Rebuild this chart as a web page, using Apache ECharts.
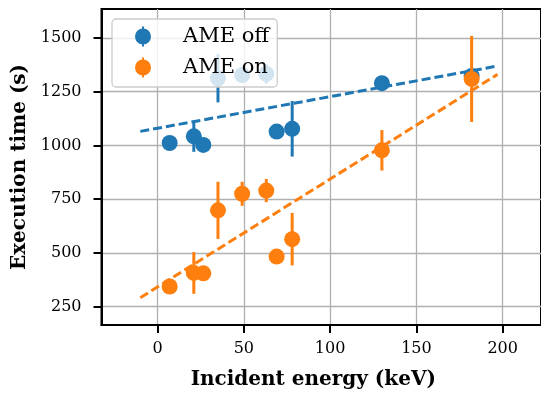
<!DOCTYPE html>
<html>
<head>
<meta charset="utf-8">
<script src="https://cdn.jsdelivr.net/npm/echarts@6/dist/echarts.min.js"></script>
<style>
  html, body { margin: 0; padding: 0; background: #fff; }
  #main { width: 541px; height: 395px; }
</style>
</head>
<body>
<div id="main"></div>
<script>
// incident energies (keV), shared by both runs
var energies = [7, 21, 26.5, 35, 49, 63, 69, 78, 130, 182];

// AME off
var offTime = [1011, 1042, 1002, 1312, 1327, 1332, 1064, 1077, 1289, 1323];
var offErr  = [8, 72, 8, 112, 20, 45, 8, 129, 10, 15];

// AME on
var onTime = [344, 407, 405, 698, 775, 790, 483, 564, 977, 1309];
var onErr  = [8, 97, 8, 133, 56, 54, 8, 122, 94, 200];

// linear fits (end points)
var fitX = [-10, 197];
var offFitY = [1065, 1369];
var onFitY = [292, 1330];

var xTicks = [0, 50, 100, 150, 200];
var yTicks = [250, 500, 750, 1000, 1250, 1500];

var BLUE = '#1f77b4', ORANGE = '#ff7f0e';
var FONT = 'DejaVu Serif';

function pts(xs, ys, es) {
  return xs.map(function (x, i) { return es ? [x, ys[i], es[i]] : [x, ys[i]]; });
}

function errRender(params, api) {
  var x = api.value(0), y = api.value(1), e = api.value(2);
  var a = api.coord([x, y - e]), b = api.coord([x, y + e]);
  return {
    type: 'line',
    shape: { x1: a[0], y1: a[1], x2: b[0], y2: b[1] },
    style: { stroke: api.visual('color'), lineWidth: 3 }
  };
}

// circle marker with a little error bar through it
var legendIcon = 'path://M9,0h2v20h-2z M2,10a8,8 0 1,1 16,0a8,8 0 1,1 -16,0z';

var option = {
  animation: false,
  backgroundColor: '#fff',
  grid: {
    left: 101.5, right: -4, top: 9, bottom: 70,
    show: true, borderColor: '#000', borderWidth: 2, backgroundColor: 'transparent'
  },
  legend: {
    orient: 'vertical',
    left: 112, top: 19,
    z: 10,
    padding: [7, 8, 9, 23],
    itemGap: 10,
    itemWidth: 16, itemHeight: 20,
    backgroundColor: 'rgba(255,255,255,0.8)',
    borderColor: '#cccccc', borderWidth: 1.3, borderRadius: 4,
    textStyle: { fontFamily: FONT, fontSize: 21, color: '#000', padding: [0, 0, 0, 27] },
    data: [
      { name: 'AME off', icon: legendIcon },
      { name: 'AME on', icon: legendIcon }
    ]
  },
  xAxis: {
    type: 'value',
    min: -32.5, max: 222.2,
    minInterval: 50, maxInterval: 50,
    name: 'Incident energy (keV)',
    nameLocation: 'middle', nameGap: 45,
    nameTextStyle: { fontFamily: FONT, fontWeight: 'bold', fontSize: 20, color: '#000', padding: [0, 16, 0, 0] },
    axisLine: { show: true, onZero: false, lineStyle: { color: '#000', width: 2 } },
    axisTick: { show: true, length: 8, lineStyle: { color: '#000', width: 2 }, customValues: xTicks },
    axisLabel: { margin: 16, fontFamily: FONT, fontSize: 16, color: '#000', customValues: xTicks,
      formatter: function (v) { return String(v); } },
    splitLine: { show: true, lineStyle: { color: '#b0b0b0', width: 1.3 } }
  },
  yAxis: {
    type: 'value',
    min: 165, max: 1634,
    minInterval: 250, maxInterval: 250,
    name: 'Execution time (s)',
    nameLocation: 'middle', nameGap: 68,
    nameTextStyle: { fontFamily: FONT, fontWeight: 'bold', fontSize: 20, color: '#000' },
    axisLine: { show: true, onZero: false, lineStyle: { color: '#000', width: 2 } },
    axisTick: { show: true, length: 8, lineStyle: { color: '#000', width: 2 }, customValues: yTicks },
    axisLabel: { margin: 20, fontFamily: FONT, fontSize: 16, color: '#000', customValues: yTicks,
      formatter: function (v) { return String(v); } },
    splitLine: { show: true, lineStyle: { color: '#b0b0b0', width: 1.3 } }
  },
  series: [
    {
      name: 'fit off', type: 'line', z: 1, symbol: 'none', silent: true,
      data: pts(fitX, offFitY),
      lineStyle: { color: BLUE, width: 3, type: [9, 4] }
    },
    {
      name: 'fit on', type: 'line', z: 1, symbol: 'none', silent: true,
      data: pts(fitX, onFitY),
      lineStyle: { color: ORANGE, width: 3, type: [9, 4] }
    },
    {
      name: 'err off', type: 'custom', z: 2, renderItem: errRender,
      itemStyle: { color: BLUE },
      data: pts(energies, offTime, offErr)
    },
    {
      name: 'AME off', type: 'scatter', z: 3, symbolSize: 16,
      itemStyle: { color: BLUE, opacity: 1 },
      data: pts(energies, offTime)
    },
    {
      name: 'err on', type: 'custom', z: 4, renderItem: errRender,
      itemStyle: { color: ORANGE },
      data: pts(energies, onTime, onErr)
    },
    {
      name: 'AME on', type: 'scatter', z: 5, symbolSize: 16,
      itemStyle: { color: ORANGE, opacity: 1 },
      data: pts(energies, onTime)
    }
  ]
};

var chartDom = document.getElementById('main');
var myChart = echarts.init(chartDom);
myChart.setOption(option);
</script>
</body>
</html>
